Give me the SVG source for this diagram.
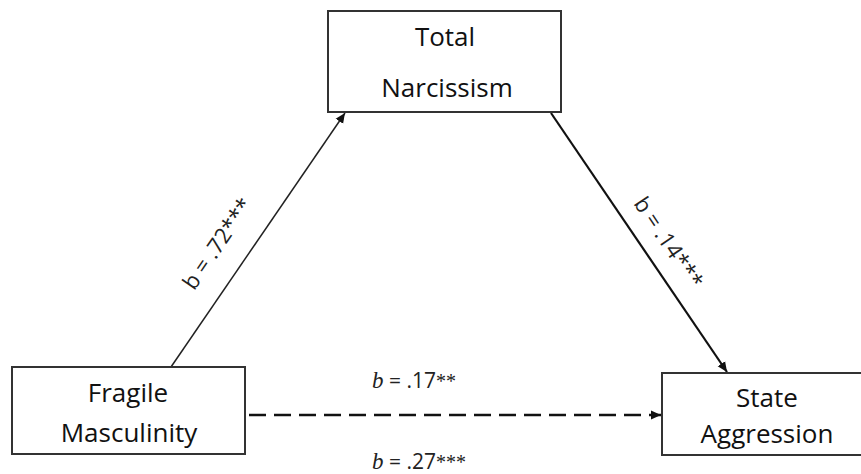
<svg xmlns="http://www.w3.org/2000/svg" width="861" height="474" viewBox="0 0 861 474">
  <style>
    .box { fill: #ffffff; stroke: #333333; stroke-width: 2; }
    .name { font-family: "Open Sans", "Liberation Sans", sans-serif; font-size: 26px; fill: #111111; text-anchor: middle; }
    .coef { font-family: "Open Sans", "Liberation Sans", sans-serif; font-size: 21px; fill: #222222; }
    .slant { font-family: "Open Sans", "Liberation Sans", sans-serif; font-size: 22px; fill: #222222; text-anchor: middle; }
    .it { font-family: "Liberation Serif", serif; font-style: italic; font-size: 23px; }
    .star { font-family: "Liberation Serif", serif; font-size: 20px; }
  </style>
  <defs>
    <marker id="head" viewBox="0 0 10 10" refX="10" refY="5" markerWidth="10" markerHeight="10" markerUnits="userSpaceOnUse" orient="auto">
      <path d="M0,0.5 L10,5 L0,9.5 Z" fill="#111111"/>
    </marker>
  </defs>
  <rect width="861" height="474" fill="#ffffff"/>

  <g id="connectors">
    <line x1="171" y1="367" x2="345" y2="113" stroke="#222222" stroke-width="1.5" marker-end="url(#head)"/>
    <line x1="551" y1="113" x2="727" y2="372" stroke="#111111" stroke-width="2.2" marker-end="url(#head)"/>
    <line x1="249" y1="415" x2="661" y2="415" stroke="#111111" stroke-width="2.6" stroke-dasharray="17,8" marker-end="url(#head)"/>
  </g>

  <g id="total-narcissism">
    <rect class="box" x="328" y="11" width="233" height="101"/>
    <text class="name" x="445" y="46">Total</text>
    <text class="name" x="447" y="97">Narcissism</text>
  </g>

  <g id="fragile-masculinity">
    <rect class="box" x="12" y="367" width="233" height="87"/>
    <text class="name" x="128" y="402">Fragile</text>
    <text class="name" x="129" y="442">Masculinity</text>
  </g>

  <g id="state-aggression">
    <rect class="box" x="662" y="373" width="212" height="82"/>
    <text class="name" x="767" y="407">State</text>
    <text class="name" x="767" y="443">Aggression</text>
  </g>

  <g id="labels">
    <text class="slant" transform="translate(218,244) rotate(-55.7)" y="7">b = .72***</text>
    <text class="slant" transform="translate(668,243) rotate(56)" y="7">b = .14***</text>
    <text class="coef" x="372" y="388"><tspan class="it">b</tspan>  = .17<tspan class="star">**</tspan></text>
    <text class="coef" x="372" y="469"><tspan class="it">b</tspan>  = .27<tspan class="star">***</tspan></text>
  </g>
</svg>
